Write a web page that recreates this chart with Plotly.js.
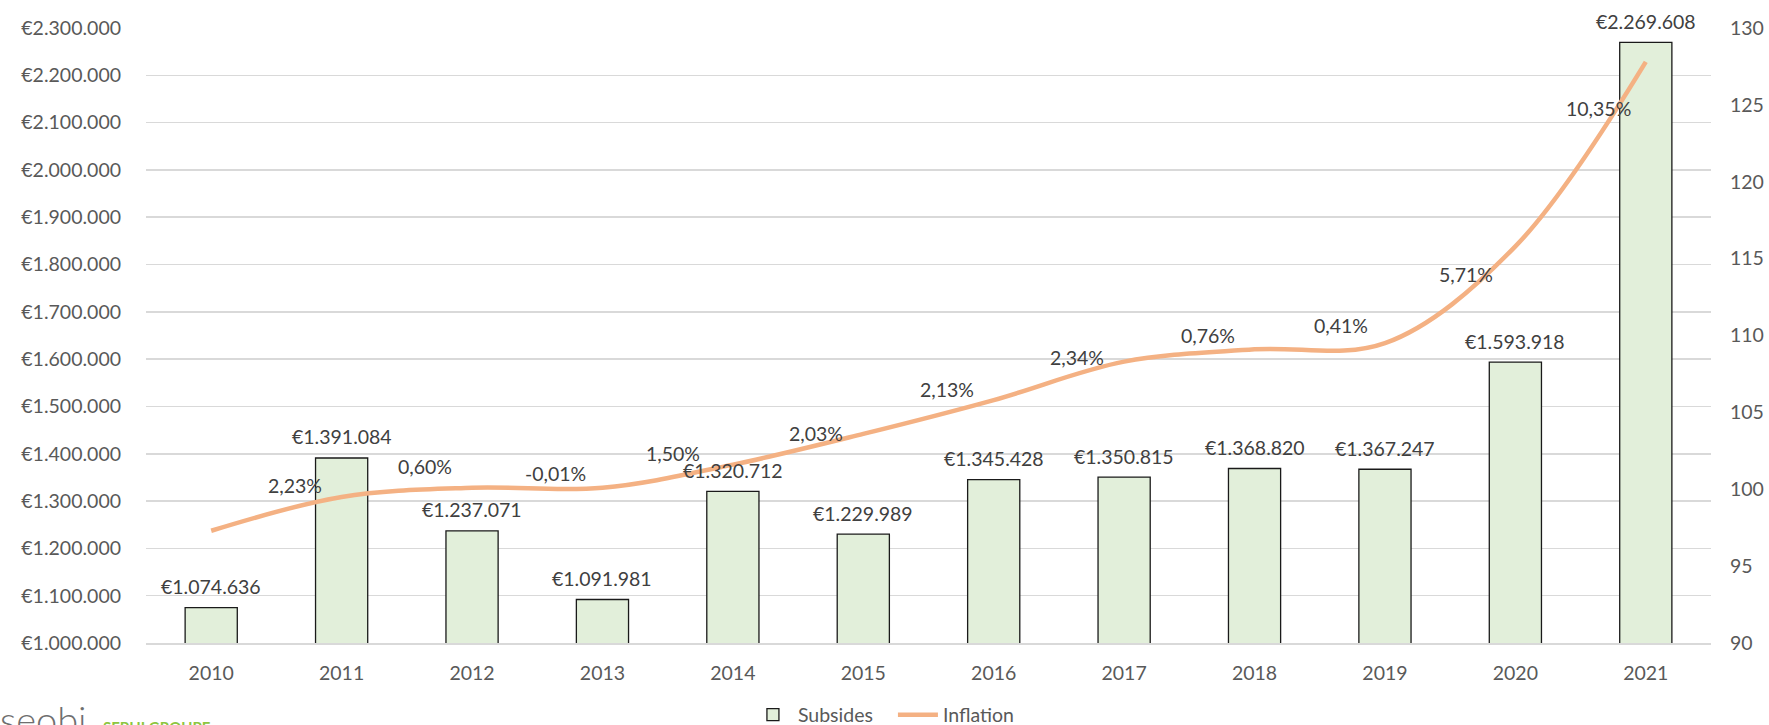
<!DOCTYPE html>
<html>
<head>
<meta charset="utf-8">
<script src="https://cdn.plot.ly/plotly-3.0.1.min.js"></script>
<style>
  html, body { margin: 0; padding: 0; background: #ffffff; }
  #chart { width: 1769px; height: 725px; }
</style>
</head>
<body>
<div id="chart"></div>
<script>
// ---- data ----
const years = ['2010','2011','2012','2013','2014','2015','2016','2017','2018','2019','2020','2021'];
const subsides = [1074636, 1391084, 1237071, 1091981, 1320712, 1229989, 1345428, 1350815, 1368820, 1367247, 1593918, 2269608];
const inflationIndex = [97.3, 99.5, 100.1, 100.1, 101.6, 103.6, 105.8, 108.3, 109.1, 109.5, 115.8, 127.8];
const inflationLabels = [null, '2,23%', '0,60%', '-0,01%', '1,50%', '2,03%', '2,13%', '2,34%', '0,76%', '0,41%', '5,71%', '10,35%'];
const leftTicks = [1000000,1100000,1200000,1300000,1400000,1500000,1600000,1700000,1800000,1900000,2000000,2100000,2200000,2300000];
const rightTicks = [90, 95, 100, 105, 110, 115, 120, 125, 130];

// label nudges (px) for inflation labels — style only
const inflLabelDx = [-47, -47, -47, -47, -60, -47, -47, -47, -47, -44, -49, -47];
const inflLabelDy = [0, 11, 21, 14, 11, 0, 11, 4, 14, 18, -28, -47];

const FONT = 'Lato, "Open Sans", sans-serif';
const FS = 19.5;
function euro(v) { return '€' + String(v).replace(/\B(?=(\d{3})+(?!\d))/g, '.'); }

const barTrace = {
  type: 'bar', name: 'Subsides', x: years, y: subsides,
  marker: { color: '#E2EFDA', line: { color: '#1a1a1a', width: 1.3 } },
  hoverinfo: 'skip'
};
const lineTrace = {
  type: 'scatter', mode: 'lines', name: 'Inflation', x: years, y: inflationIndex,
  yaxis: 'y2', line: { color: '#F4B183', width: 4.5, shape: 'spline', smoothing: 1 },
  hoverinfo: 'skip'
};

const annotations = [];
years.forEach((yr, i) => {
  annotations.push({
    x: i, y: subsides[i], xref: 'x', yref: 'y', text: euro(subsides[i]),
    showarrow: false, yanchor: 'middle', yshift: 21,
    font: { family: FONT, size: FS, color: '#404040' }
  });
  if (inflationLabels[i]) {
    annotations.push({
      x: i, y: inflationIndex[i], xref: 'x', yref: 'y2', text: inflationLabels[i],
      showarrow: false, xanchor: 'center', yanchor: 'middle',
      xshift: inflLabelDx[i], yshift: inflLabelDy[i],
      font: { family: FONT, size: FS, color: '#404040' }
    });
  }
});
// logo (cut off at the bottom edge, as in the source image)
annotations.push({
  xref: 'paper', yref: 'paper', x: -0.0945, y: -0.083, xanchor: 'left', yanchor: 'top',
  text: 'seobi', showarrow: false,
  font: { family: FONT, size: 38, color: '#6f6f6f', weight: 300 }
});
annotations.push({
  xref: 'paper', yref: 'paper', x: -0.029, y: -0.118, xanchor: 'left', yanchor: 'top',
  text: 'SEPHI GROUPE', showarrow: false,
  font: { family: FONT, size: 15, color: '#8DC63F', weight: 700 }
});

const layout = {
  width: 1769, height: 725,
  margin: { l: 146, r: 58, t: 28, b: 82 },
  paper_bgcolor: '#ffffff', plot_bgcolor: '#ffffff',
  separators: ',.',
  font: { family: FONT, size: FS, color: '#595959' },
  bargap: 0.6,
  showlegend: true,
  legend: {
    orientation: 'h', xref: 'container', yref: 'container',
    x: 0.4228, xanchor: 'left', y: 0.0138, yanchor: 'middle',
    font: { family: FONT, size: FS, color: '#595959' },
    bgcolor: 'rgba(0,0,0,0)', itemwidth: 40, entrywidth: 90, tracegroupgap: 0
  },
  xaxis: {
    type: 'category', range: [-0.5, 11.5], autorange: false,
    showgrid: false, zeroline: false,
    showline: true, linecolor: '#d9d9d9', linewidth: 1.5,
    ticks: '', ticklabelstandoff: 12,
    tickfont: { family: FONT, size: FS, color: '#595959' }
  },
  yaxis: {
    range: [1000000, 2300000], tickvals: leftTicks,
    ticktext: leftTicks.map(euro),
    showgrid: true, gridcolor: '#d9d9d9', gridwidth: 1.5, zeroline: false,
    ticks: '', ticklabelstandoff: 24,
    tickfont: { family: FONT, size: FS, color: '#595959' }
  },
  yaxis2: {
    range: [90, 130], tickvals: rightTicks, overlaying: 'y', side: 'right',
    showgrid: false, zeroline: false, ticks: '', ticklabelstandoff: 18,
    tickfont: { family: FONT, size: FS, color: '#595959' }
  },
  annotations: annotations
};

Plotly.newPlot('chart', [barTrace, lineTrace], layout, { staticPlot: true, displayModeBar: false });
</script>
</body>
</html>
